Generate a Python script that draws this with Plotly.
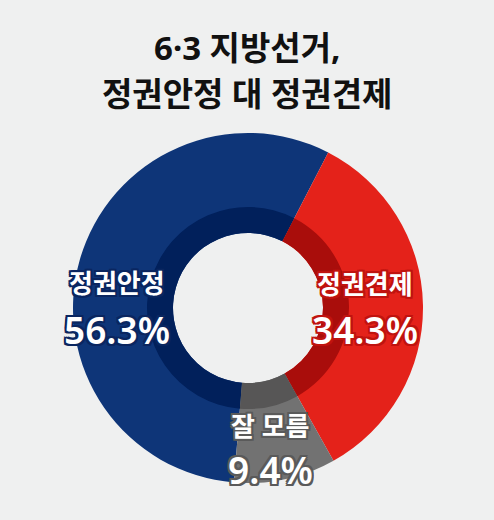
## Donut Chart ##

import plotly.graph_objects as go

labels = ['정권안정', '정권견제', '잘 모름']
values = [56.3, 34.3, 9.4]
title_lines = ['6·3 지방선거,', '정권안정 대 정권견제']

outer_colors = ['#0e3578', '#e4221a', '#727272']
inner_colors = ['#01205b', '#a90d0b', '#575656']
edge_colors = ['#0a2660', '#c0130f', '#5a5a5a']

W, H = 494, 520
cx, cy = 248, 308          # donut centre in pixels (from top-left)
r_out, r_mid, r_hole = 175, 101, 75
bg = '#eff0f0'


def dom(r):
    return dict(x=[(cx - r) / W, (cx + r) / W],
                y=[(H - cy - r) / H, (H - cy + r) / H])


def outline(color, w=2):
    offs = [(w, 0), (-w, 0), (0, w), (0, -w), (w, w), (-w, -w), (w, -w), (-w, w)]
    return ', '.join(f'{dx}px {dy}px 0 {color}' for dx, dy in offs)


fig = go.Figure()

# Outer ring
fig.add_trace(go.Pie(labels=labels, values=values, sort=False, direction='clockwise',
                     rotation=184.6, hole=r_hole / r_out, domain=dom(r_out),
                     marker=dict(colors=outer_colors, line=dict(width=0)),
                     textinfo='none', hoverinfo='label+percent'))

# Darker inner ring
fig.add_trace(go.Pie(labels=labels, values=values, sort=False, direction='clockwise',
                     rotation=184.6, hole=r_hole / r_mid, domain=dom(r_mid),
                     marker=dict(colors=inner_colors, line=dict(width=0)),
                     textinfo='none', hoverinfo='skip'))

# Slice labels
label_pos = [(117, 283, 329), (365, 284, 329), (270, 426, 469)]
font = 'Noto Sans, Noto Sans CJK KR, sans-serif'
for lab, val, (x, y1, y2), ec in zip(labels, values, label_pos, edge_colors):
    fig.add_annotation(x=x / W, y=1 - y1 / H, xref='paper', yref='paper',
                       text=lab, showarrow=False, xanchor='center', yanchor='middle',
                       font=dict(family=font, size=26, color='white', weight=600,
                                 shadow=outline(ec)))
    fig.add_annotation(x=x / W, y=1 - y2 / H, xref='paper', yref='paper',
                       text=f'{val}%', showarrow=False, xanchor='center', yanchor='middle',
                       font=dict(family=font, size=37, color='white', weight=600,
                                 shadow=outline(ec)))

# Title
for line, y in zip(title_lines, [47, 93]):
    fig.add_annotation(x=0.5, y=1 - y / H, xref='paper', yref='paper', text=line,
                       showarrow=False, xanchor='center', yanchor='middle',
                       font=dict(family=font, size=33, color='#111111', weight=700))

fig.update_layout(width=W, height=H, margin=dict(l=0, r=0, t=0, b=0),
                  paper_bgcolor=bg, plot_bgcolor=bg, showlegend=False)

fig.write_html('out.html', config={'displayModeBar': False},
               post_script="document.body.style.margin='0';")
